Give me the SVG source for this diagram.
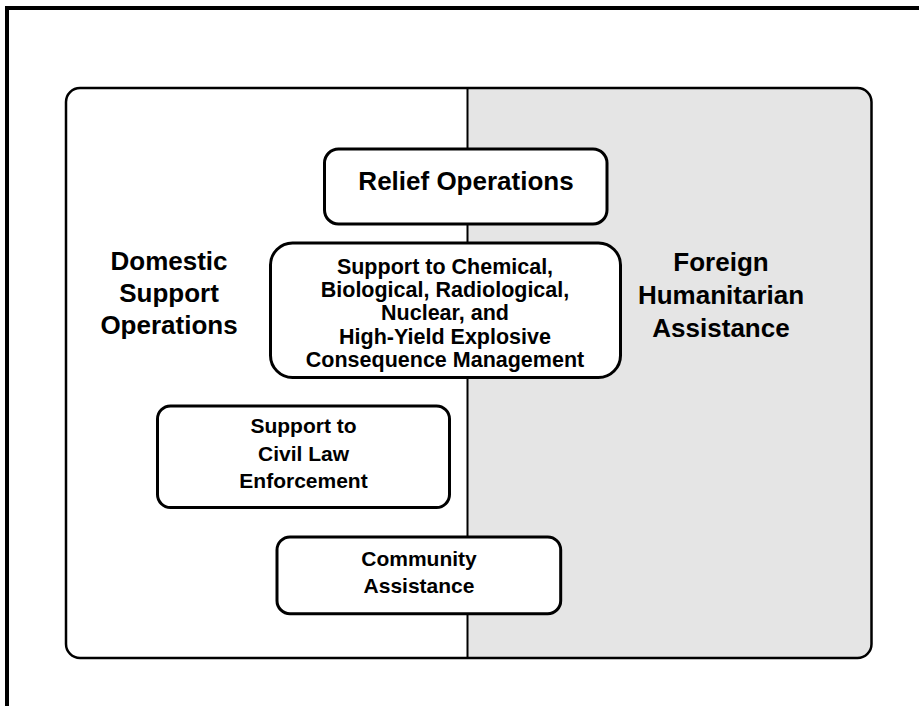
<svg xmlns="http://www.w3.org/2000/svg" width="919" height="706" viewBox="0 0 919 706">
<style>
text{font-family:"Liberation Sans",Arial,sans-serif;font-weight:bold;fill:#000;text-anchor:middle}
.big{font-size:26px}
.rel{font-size:26px}
.sm{font-size:21px}
.cb{font-size:21.5px}
.box{fill:#fff;stroke:#000;stroke-width:3}
</style>
<rect width="919" height="706" fill="#fff"/>
<g id="frame">
<path d="M7 706 V8 H919" fill="none" stroke="#000" stroke-width="4"/>
</g>
<g id="panel">
<rect x="66" y="88" width="805.5" height="570" rx="14" fill="#fff"/>
<path d="M467.5 88 H857.5 A14 14 0 0 1 871.5 102 V644 A14 14 0 0 1 857.5 658 H467.5 Z" fill="#e5e5e5"/>
<line x1="467.5" y1="88" x2="467.5" y2="658" stroke="#000" stroke-width="2"/>
<rect x="66" y="88" width="805.5" height="570" rx="14" fill="none" stroke="#000" stroke-width="2.5"/>
</g>
<g id="domestic">
<text class="big" x="169" y="270">Domestic</text>
<text class="big" x="169" y="302">Support</text>
<text class="big" x="169" y="334">Operations</text>
</g>
<g id="foreign">
<text class="big" x="721" y="271">Foreign</text>
<text class="big" x="721" y="304">Humanitarian</text>
<text class="big" x="721" y="337">Assistance</text>
</g>
<g id="relief">
<rect class="box" x="324.5" y="149" width="282.5" height="75" rx="14"/>
<text class="rel" x="466" y="190">Relief Operations</text>
</g>
<g id="cbrne">
<rect class="box" x="270.5" y="243" width="350" height="134.5" rx="22"/>
<text class="cb" x="445" y="273.7">Support to Chemical,</text>
<text class="cb" x="445" y="297">Biological, Radiological,</text>
<text class="cb" x="445" y="320.3">Nuclear, and</text>
<text class="cb" x="445" y="343.7">High-Yield Explosive</text>
<text class="cb" x="445" y="367">Consequence Management</text>
</g>
<g id="civil">
<rect class="box" x="157.5" y="406" width="292" height="101.5" rx="13"/>
<text class="sm" x="303.5" y="432.7">Support to</text>
<text class="sm" x="303.5" y="460.5">Civil Law</text>
<text class="sm" x="303.5" y="487.7">Enforcement</text>
</g>
<g id="community">
<rect class="box" x="277" y="537" width="283.7" height="76.7" rx="13"/>
<text class="sm" x="419" y="565.7">Community</text>
<text class="sm" x="419" y="592.7">Assistance</text>
</g>
<g id="connectors"></g>
</svg>
